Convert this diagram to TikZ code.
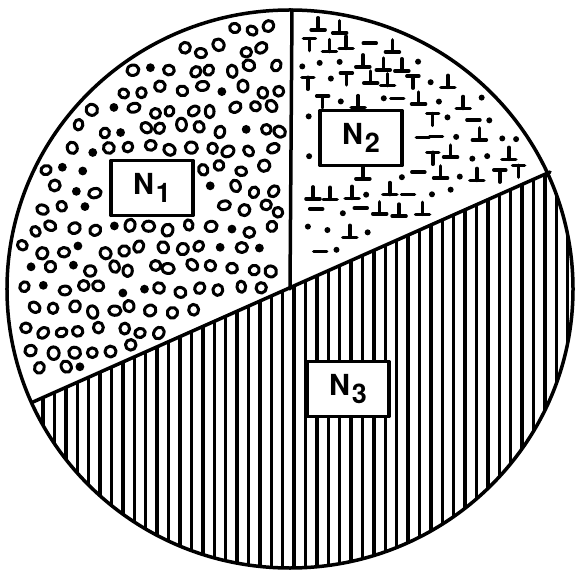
\documentclass[tikz,border=0pt]{standalone}
\usepackage{fontspec}
\setsansfont{TeX Gyre Heros}
\begin{document}
\begin{tikzpicture}[x=1pt,y=1pt,line cap=round,line join=round]
\useasboundingbox (-290,-283) rectangle (287,289);
\tikzset{
  outline/.style={line width=3.5pt},
  lbl/.style={draw,line width=3.2pt,fill=white,minimum width=82pt,minimum height=55pt,inner sep=0pt,font=\sffamily\bfseries\fontsize{29}{29}\selectfont},
  ring/.style={line width=3pt},
  hatchline/.style={line width=3.4pt},
  tee/.style={line width=3.5pt}
}
\newcommand{\lab}[1]{N\kern2pt\raisebox{-8pt}{\fontsize{27}{27}\selectfont #1}}
\coordinate (c) at (0,0);
\coordinate (top) at (2,279);
\coordinate (lft) at (-257,-113);
\coordinate (rgt) at (260,117);
% N3: vertical hatching
\begin{scope}
  \clip (0,0) ellipse [x radius=283pt, y radius=279pt];
  \clip (-300,-133.5) -- (300,133.5) -- (300,-300) -- (-300,-300) -- cycle;
  \foreach \k in {-25,...,25} \draw[hatchline] (\k*11.4+4,-290) -- (\k*11.4+4,140);
\end{scope}
% N1: rings and dots
\pgfmathsetseed{11}
\foreach \i in {0,...,15} {
  \foreach \j in {-7,...,14} {
    \pgfmathsetmacro\px{-288+\i*20+mod(\j+8,2)*10+4.5*rand}
    \pgfmathsetmacro\py{\j*20+4.5*rand}
    \pgfmathtruncatemacro\ok{and(and(\px<-10,\py>0.445*\px+11),and((\px/283)^2+(\py/279)^2<0.93,not(and(and(\px>-189,\px<-87),and(\py>64,\py<138)))))}
    \ifnum\ok=1
      \pgfmathsetmacro\t{rnd}
      \pgfmathsetmacro\rx{4.3+1.3*rnd}
      \pgfmathsetmacro\ry{4.9+1.5*rnd}
      \pgfmathsetmacro\rot{360*rnd}
      \ifdim\t pt<0.16pt
        \fill (\px,\py) circle [radius=4.4pt];
      \else
        \draw[ring,rotate around={\rot:(\px,\py)}] (\px,\py) ellipse [x radius=\rx pt,y radius=\ry pt];
      \fi
    \fi
  }
}
% N2: T marks, dashes, dots
\pgfmathsetseed{23}
\foreach \i in {0,...,14} {
  \foreach \j in {0,...,15} {
    \pgfmathsetmacro\px{10+\i*20+mod(\j,2)*10+4*rand}
    \pgfmathsetmacro\py{4+\j*18.5+3.5*rand}
    \pgfmathtruncatemacro\ok{and(and(\px>12,\py>0.445*\px+14),and((\px/283)^2+(\py/279)^2<0.93,not(and(and(\px>22,\px<122),and(\py>116,\py<186)))))}
    \ifnum\ok=1
      \pgfmathsetmacro\t{rnd}
      \ifdim\t pt<0.42pt
        \draw[tee] (\px-7,\py-5) -- (\px+7,\py-5) (\px,\py-5) -- (\px,\py+7);
      \else\ifdim\t pt<0.52pt
        \draw[tee] (\px-6,\py+6) -- (\px+6,\py+6) (\px,\py+6) -- (\px,\py-6);
      \else\ifdim\t pt<0.68pt
        \draw[tee] (\px-7,\py) -- (\px+6,\py);
      \else
        \fill (\px,\py) circle [radius=3pt];
      \fi\fi\fi
    \fi
  }
}
% outlines
\draw[outline] (c) ellipse [x radius=283pt, y radius=279pt];
\draw[outline] (top) -- (c);
\draw[outline] (lft) -- (rgt);
% labels
\node[lbl] (n1) at (-138,101) {\lab{1}};
\node[lbl] (n2) at (71,151) {\lab{2}};
\node[lbl] (n3) at (58,-100) {\lab{3}};
\end{tikzpicture}
\end{document}
